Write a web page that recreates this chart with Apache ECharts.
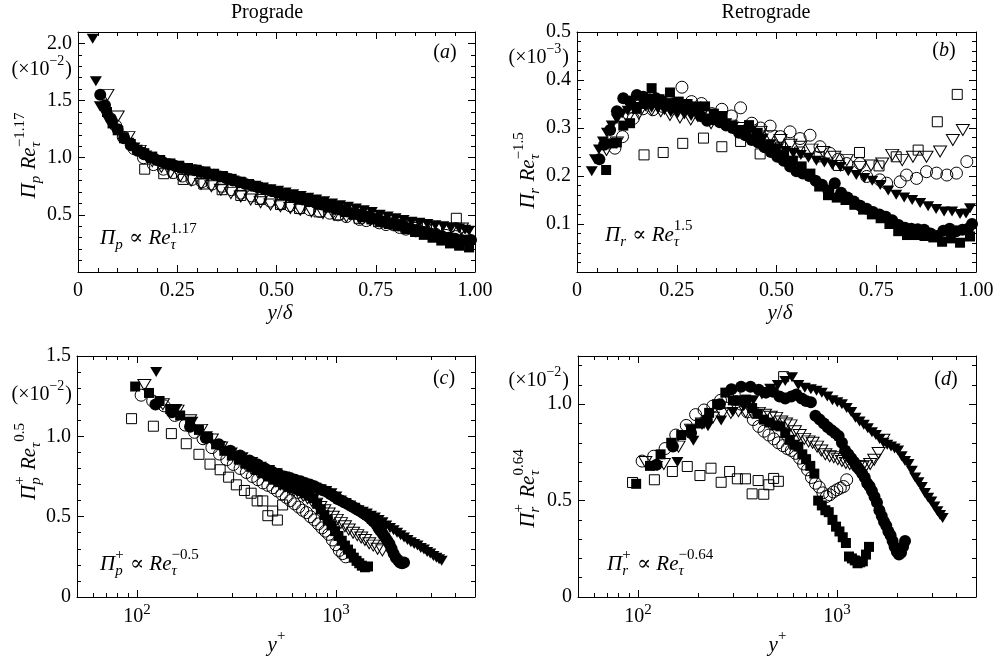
<!DOCTYPE html>
<html><head><meta charset="utf-8">
<script src="https://cdn.jsdelivr.net/npm/echarts@6/dist/echarts.min.js"></script>
<style>html,body{margin:0;padding:0;background:#fff}#c{width:997px;height:658px}</style>
</head><body><div id="c"></div>
<script>
// ---------- outer scaling: x = y/delta ----------
const ydTF = [0.037,0.045,0.055,0.065,0.075,0.087,0.1,0.113,0.127,0.142,0.157,0.172,0.187,0.203,0.219,0.235,0.252,0.269,0.286,0.303,0.32,0.338,0.356,0.374,0.392,0.41,0.428,0.447,0.466,0.485,0.504,0.523,0.542,0.561,0.58,0.6,0.62,0.64,0.66,0.68,0.70,0.72,0.74,0.76,0.78,0.80,0.82,0.84,0.86,0.88,0.90,0.92,0.94,0.96,0.975,0.985];
const aTF = [2.04,1.67,1.45,1.40,1.33,1.28,1.23,1.18,1.13,1.09,1.05,1.02,0.99,0.97,0.95,0.935,0.92,0.905,0.895,0.88,0.865,0.85,0.835,0.82,0.80,0.785,0.77,0.755,0.74,0.725,0.71,0.695,0.68,0.665,0.65,0.635,0.62,0.60,0.585,0.57,0.555,0.54,0.525,0.50,0.485,0.47,0.455,0.44,0.43,0.42,0.41,0.40,0.39,0.38,0.37,0.36];
const bTF = [0.21,0.235,0.255,0.272,0.29,0.305,0.318,0.33,0.336,0.34,0.344,0.345,0.342,0.34,0.337,0.333,0.33,0.328,0.325,0.322,0.32,0.318,0.314,0.31,0.303,0.296,0.29,0.286,0.278,0.266,0.258,0.252,0.248,0.244,0.238,0.232,0.228,0.223,0.219,0.21,0.202,0.196,0.19,0.181,0.17,0.161,0.155,0.15,0.144,0.137,0.131,0.126,0.126,0.121,0.122,0.133];

const ydCF = [0.056,0.068,0.083,0.1,0.116,0.133,0.15,0.166,0.182,0.198,0.214,0.23,0.246,0.262,0.278,0.294,0.31,0.326,0.342,0.358,0.374,0.39,0.406,0.422,0.438,0.454,0.47,0.486,0.502,0.518,0.534,0.55,0.566,0.582,0.598,0.614,0.63,0.646,0.662,0.678,0.694,0.71,0.726,0.742,0.758,0.774,0.79,0.806,0.822,0.838,0.854,0.87,0.886,0.902,0.918,0.934,0.95,0.966,0.98,0.99];
const aCF = [1.55,1.46,1.34,1.25,1.17,1.11,1.06,1.03,1.0,0.98,0.96,0.94,0.925,0.91,0.90,0.89,0.875,0.86,0.85,0.835,0.82,0.80,0.785,0.77,0.755,0.74,0.725,0.71,0.695,0.68,0.665,0.65,0.635,0.62,0.605,0.59,0.575,0.56,0.545,0.53,0.515,0.50,0.485,0.47,0.455,0.44,0.425,0.41,0.395,0.38,0.365,0.35,0.34,0.325,0.31,0.30,0.29,0.28,0.275,0.28];
const bCF = [0.235,0.265,0.296,0.335,0.362,0.355,0.369,0.365,0.36,0.362,0.355,0.35,0.352,0.345,0.345,0.34,0.325,0.315,0.318,0.312,0.305,0.30,0.29,0.285,0.275,0.27,0.26,0.25,0.24,0.232,0.22,0.21,0.205,0.2,0.19,0.182,0.17,0.185,0.165,0.155,0.147,0.138,0.132,0.125,0.12,0.115,0.108,0.098,0.092,0.09,0.089,0.088,0.08,0.075,0.086,0.09,0.085,0.088,0.09,0.10];

const ydSF = [0.073,0.087,0.1,0.116,0.133,0.15,0.167,0.187,0.207,0.233,0.255,0.277,0.299,0.321,0.343,0.365,0.387,0.409,0.431,0.453,0.475,0.497,0.519,0.541,0.563,0.585,0.607,0.629,0.651,0.673,0.695,0.717,0.739,0.761,0.783,0.805,0.827,0.849,0.871,0.893,0.915,0.937,0.96,0.985];
const aSF = [1.40,1.30,1.24,1.17,1.12,1.07,1.04,1.01,0.98,0.95,0.93,0.91,0.895,0.88,0.86,0.84,0.815,0.79,0.77,0.745,0.72,0.70,0.68,0.66,0.64,0.615,0.59,0.565,0.545,0.525,0.50,0.48,0.46,0.44,0.42,0.40,0.375,0.35,0.325,0.30,0.275,0.25,0.23,0.215];
const bSF = [0.2125,0.268,0.27,0.305,0.31,0.34,0.35,0.383,0.36,0.374,0.355,0.35,0.345,0.345,0.33,0.325,0.305,0.295,0.306,0.29,0.265,0.255,0.245,0.232,0.22,0.205,0.178,0.16,0.155,0.15,0.14,0.13,0.12,0.112,0.10,0.085,0.077,0.077,0.075,0.072,0.063,0.07,0.061,0.074];

const ydTO = [0.074,0.1,0.127,0.155,0.187,0.21,0.233,0.258,0.285,0.31,0.336,0.36,0.385,0.41,0.435,0.46,0.485,0.51,0.535,0.56,0.588,0.617,0.645,0.676,0.709,0.737,0.765,0.79,0.815,0.842,0.876,0.91,0.942,0.967];
const aTO = [1.55,1.36,1.18,1.06,0.97,0.92,0.87,0.84,0.80,0.77,0.75,0.72,0.69,0.66,0.635,0.61,0.59,0.575,0.56,0.545,0.53,0.515,0.50,0.485,0.47,0.455,0.44,0.425,0.41,0.40,0.39,0.38,0.38,0.38];
const bTO = [0.254,0.27,0.32,0.33,0.3375,0.335,0.327,0.322,0.318,0.325,0.31,0.32,0.305,0.30,0.295,0.292,0.283,0.275,0.265,0.261,0.255,0.25,0.24,0.233,0.219,0.222,0.226,0.244,0.233,0.24,0.24,0.251,0.275,0.296];

const ydCO = [0.095,0.114,0.141,0.165,0.19,0.215,0.24,0.263,0.287,0.312,0.338,0.363,0.387,0.41,0.438,0.46,0.484,0.51,0.534,0.559,0.584,0.609,0.634,0.655,0.676,0.709,0.726,0.759,0.776,0.81,0.826,0.851,0.876,0.901,0.927,0.951,0.977];
const aCO = [1.28,1.18,1.08,1.0,0.94,0.90,0.87,0.84,0.81,0.79,0.77,0.75,0.72,0.69,0.665,0.645,0.62,0.60,0.58,0.56,0.545,0.53,0.515,0.50,0.485,0.46,0.45,0.43,0.415,0.39,0.375,0.36,0.345,0.33,0.32,0.31,0.30];
const bCO = [0.258,0.282,0.32,0.34,0.338,0.345,0.35,0.385,0.355,0.351,0.33,0.339,0.325,0.342,0.31,0.30,0.304,0.282,0.292,0.278,0.285,0.261,0.247,0.235,0.226,0.226,0.199,0.192,0.185,0.188,0.202,0.195,0.209,0.206,0.202,0.206,0.23];

const ydSO = [0.168,0.216,0.265,0.317,0.363,0.41,0.459,0.51,0.558,0.607,0.655,0.708,0.757,0.80,0.855,0.903,0.953];
const aSO = [0.90,0.86,0.81,0.77,0.72,0.67,0.635,0.59,0.555,0.526,0.50,0.47,0.44,0.41,0.39,0.39,0.47];
const bSO = [0.244,0.249,0.268,0.279,0.261,0.272,0.246,0.26,0.25,0.24,0.222,0.249,0.221,0.24,0.254,0.313,0.370];

// ---------- inner scaling: x = y+ ----------
const ypTF = [125,158,190,225,262,300,340,380,420,462,505,550,595,640,690,740,790,840,895,950,1005,1060,1120,1180,1240,1300,1365,1430,1500,1570,1640,1715,1790,1870,1950,2030,2115,2200,2290,2380,2475,2570,2670,2770,2875,2980,3090,3200,3300,3400];
const cTF = [1.40,1.17,1.09,1.0,0.94,0.90,0.87,0.84,0.81,0.79,0.77,0.75,0.735,0.72,0.70,0.69,0.68,0.67,0.66,0.645,0.625,0.60,0.585,0.57,0.555,0.54,0.53,0.52,0.505,0.495,0.48,0.465,0.445,0.43,0.415,0.40,0.385,0.37,0.355,0.34,0.33,0.32,0.305,0.295,0.28,0.27,0.255,0.245,0.235,0.225];
const dTF = [0.68,0.70,0.81,0.885,0.915,0.96,0.99,1.02,1.05,1.08,1.10,1.12,1.14,1.10,1.085,1.077,1.07,1.059,1.04,1.02,1.01,1.0,0.98,0.96,0.93,0.91,0.894,0.875,0.855,0.84,0.82,0.80,0.79,0.78,0.77,0.76,0.73,0.705,0.69,0.655,0.62,0.595,0.57,0.54,0.515,0.495,0.47,0.445,0.425,0.41];

const ypCF = [124,150,185,222,258,295,330,368,405,440,478,515,550,590,625,665,700,740,780,820,860,900,940,980,1020,1060,1100,1140,1180,1220,1260,1300,1340,1380,1420,1460,1500,1545,1590,1635,1680,1725,1770,1815,1860,1905,1950,2000,2050,2100,2150,2200];
const cCF = [1.198,1.15,1.06,0.99,0.95,0.91,0.88,0.85,0.825,0.80,0.78,0.765,0.75,0.74,0.73,0.72,0.71,0.70,0.69,0.675,0.665,0.655,0.64,0.625,0.61,0.60,0.59,0.58,0.57,0.56,0.55,0.54,0.53,0.52,0.51,0.50,0.485,0.47,0.455,0.43,0.41,0.39,0.37,0.35,0.33,0.30,0.27,0.245,0.23,0.215,0.21,0.215];
const dCF = [0.686,0.78,0.85,0.92,1.0,1.077,1.09,1.09,1.075,1.06,1.065,1.04,1.03,1.04,1.05,1.03,1.016,1.01,0.94,0.92,0.90,0.88,0.865,0.85,0.835,0.80,0.76,0.74,0.72,0.70,0.675,0.66,0.64,0.62,0.59,0.575,0.55,0.52,0.49,0.45,0.42,0.39,0.37,0.34,0.32,0.29,0.26,0.235,0.22,0.23,0.26,0.29];

const ypSF = [98,115,130,147,165,185,205,228,250,275,300,325,350,375,400,430,460,490,520,550,580,610,640,670,700,735,770,805,840,875,910,950,990,1030,1070,1110,1150,1190,1230,1270,1310,1350,1400,1450];
const cSF = [1.31,1.27,1.22,1.17,1.13,1.09,1.04,0.99,0.95,0.91,0.88,0.855,0.83,0.81,0.79,0.77,0.75,0.73,0.715,0.70,0.69,0.68,0.67,0.66,0.645,0.63,0.615,0.58,0.545,0.51,0.48,0.445,0.41,0.38,0.35,0.32,0.295,0.27,0.245,0.225,0.21,0.195,0.185,0.19];
const dSF = [0.587,0.68,0.74,0.80,0.84,0.87,0.90,0.955,1.0,1.06,1.02,1.02,1.024,0.98,0.95,0.92,0.905,0.89,0.885,0.85,0.815,0.79,0.78,0.74,0.715,0.68,0.64,0.50,0.475,0.45,0.44,0.40,0.365,0.34,0.31,0.28,0.21,0.20,0.19,0.175,0.18,0.185,0.22,0.26];

const ypTO = [109,135,160,185,210,238,265,293,320,348,375,405,435,465,495,525,555,585,615,650,685,720,755,795,835,875,920,965,1010,1060,1110,1160,1220,1280,1340,1400,1470,1540,1620,1711];
const cTO = [1.32,1.20,1.16,1.10,1.04,0.98,0.93,0.89,0.86,0.83,0.80,0.78,0.76,0.74,0.72,0.70,0.69,0.675,0.66,0.645,0.63,0.615,0.60,0.58,0.56,0.54,0.52,0.50,0.48,0.46,0.44,0.42,0.40,0.385,0.37,0.355,0.335,0.32,0.30,0.29];
const dTO = [0.70,0.69,0.78,0.868,0.90,0.93,0.95,0.955,0.964,0.96,0.955,0.955,0.945,0.935,0.929,0.91,0.90,0.89,0.86,0.84,0.82,0.807,0.80,0.78,0.76,0.74,0.73,0.725,0.715,0.705,0.695,0.69,0.68,0.677,0.675,0.68,0.69,0.712,0.747,0.816];

const ypCO = [105,120,137,155,175,195,215,238,260,283,305,330,355,380,405,430,455,482,508,535,563,590,620,650,680,712,745,780,815,850,885,920,960,1000,1040,1080,1120];
const cCO = [1.256,1.22,1.19,1.13,1.07,1.025,0.985,0.93,0.89,0.855,0.825,0.80,0.775,0.75,0.73,0.71,0.695,0.68,0.66,0.64,0.62,0.60,0.58,0.56,0.54,0.525,0.50,0.48,0.455,0.43,0.41,0.39,0.355,0.325,0.29,0.27,0.25];
const dCO = [0.705,0.73,0.77,0.84,0.89,0.946,0.97,0.99,1.02,1.04,1.05,1.0,0.96,0.92,0.885,0.86,0.84,0.82,0.80,0.785,0.77,0.76,0.745,0.72,0.69,0.66,0.62,0.59,0.57,0.54,0.521,0.53,0.545,0.556,0.565,0.573,0.608];

const ypSO = [94,121,149,177,205,233,262,289,316,347,375,402,429,455,481,508,540];
const cSO = [1.11,1.063,1.017,0.954,0.888,0.827,0.792,0.746,0.698,0.663,0.646,0.598,0.598,0.506,0.535,0.479,0.573];
const dSO = [0.594,0.608,0.651,0.677,0.63,0.668,0.595,0.651,0.613,0.613,0.535,0.604,0.533,0.582,0.615,0.60,1.143];

// ---------- tick values ----------
const xOuterLabels = [0,0.25,0.5,0.75,1];
const aYLabels = [0.5,1.0,1.5,2.0];
const bYLabels = [0.1,0.2,0.3,0.4,0.5];
const cYLabels = [0,0.5,1.0,1.5];
const dYLabels = [0,0.5,1.0];
const logLabels = [100,1000];
const logMinor = [60,70,80,90,200,300,400,500,600,700,800,900,2000,3000,4000];

function steps(a,b,d){const r=[];const n=Math.round((b-a)/d);for(let i=0;i<=n;i++)r.push(+(a+i*d).toFixed(4));return r;}

const FF = '"Liberation Serif","Times New Roman","DejaVu Serif",serif';
const SZ = 20;     // tick labels / titles
const FS = 21;     // formula main size

const chart = echarts.init(document.getElementById('c'), null, {renderer:'canvas'});

const grids = [
  {left:78, top:32, width:397, height:240, outerBoundsMode:'none'},
  {left:577, top:32, width:399, height:240, outerBoundsMode:'none'},
  {left:77, top:356, width:398, height:241, outerBoundsMode:'none'},
  {left:578, top:356, width:398, height:241, outerBoundsMode:'none'}
];

const xAxes = [], yAxes = [];
function addAxes(list, dim, g, spec){
  const base = {type:spec.type, gridIndex:g, min:spec.min, max:spec.max,
    splitLine:{show:false}, splitArea:{show:false}, minorTick:{show:false}, minorSplitLine:{show:false}};
  if (spec.type === 'log') base.logBase = 10;
  const positions = dim === 'x' ? ['bottom','top'] : ['left','right'];
  positions.forEach((pos, pi) => {
    list.push(Object.assign({}, base, {position:pos,
      axisLine:{show:true, onZero:false, lineStyle:{color:'#000', width:1}},
      axisTick:{show:true, inside:true, length:4, customValues:spec.minor, lineStyle:{color:'#000', width:1}},
      axisLabel: pi === 0 ? {show:true, customValues:spec.labels, formatter:spec.fmt, margin:spec.margin,
        color:'#000', fontFamily:FF, fontSize:SZ, rich:spec.rich} : {show:false}
    }));
    list.push(Object.assign({}, base, {position:pos,
      axisLine:{show:false, onZero:false},
      axisTick:{show:true, inside:true, length:7, customValues:spec.major, lineStyle:{color:'#000', width:1}},
      axisLabel:{show:false}
    }));
  });
}
const fmt1 = v => (v === 0 ? '0' : v.toFixed(1));
const fmt2 = v => (v === 0 ? '0' : v.toFixed(2));
const logFmt = v => '{b|10}{s|' + Math.round(Math.log10(v)) + '}';
const logRich = {b:{fontFamily:FF, fontSize:SZ, lineHeight:24, verticalAlign:'bottom'},
                 s:{fontFamily:FF, fontSize:15, lineHeight:15, verticalAlign:'top'}};

const xOuter = {type:'value', min:0, max:1, minor:steps(0,1,0.05), major:xOuterLabels, labels:xOuterLabels, fmt:fmt2, margin:9};
const xInner = {type:'log', min:50, max:5000, minor:logMinor, major:logLabels, labels:logLabels, fmt:logFmt, rich:logRich, margin:6};
addAxes(xAxes,'x',0,xOuter); addAxes(xAxes,'x',1,xOuter);
addAxes(xAxes,'x',2,xInner); addAxes(xAxes,'x',3,xInner);
addAxes(yAxes,'y',0,{type:'value', min:0, max:2.1, minor:steps(0,2.1,0.1), major:[0,0.5,1,1.5,2], labels:aYLabels, fmt:fmt1, margin:6});
addAxes(yAxes,'y',1,{type:'value', min:0, max:0.5, minor:steps(0,0.5,0.02), major:steps(0,0.5,0.1), labels:bYLabels, fmt:fmt1, margin:6});
addAxes(yAxes,'y',2,{type:'value', min:0, max:1.5, minor:steps(0,1.5,0.1), major:[0,0.5,1,1.5], labels:cYLabels, fmt:fmt1, margin:6});
addAxes(yAxes,'y',3,{type:'value', min:0, max:1.25, minor:steps(0,1.2,0.1), major:[0,0.5,1], labels:dYLabels, fmt:fmt1, margin:6});

const SYM = {
  TF:{symbol:'triangle', size:[12,10], rot:180, fill:true},
  CF:{symbol:'circle', size:12, fill:true},
  SF:{symbol:'rect', size:10, fill:true},
  TO:{symbol:'triangle', size:[13,11], rot:180, fill:false},
  CO:{symbol:'circle', size:12, fill:false},
  SO:{symbol:'rect', size:10, fill:false}
};
function ser(g, xs, ys, key){
  const st = SYM[key];
  return {type:'scatter', xAxisIndex:4*g, yAxisIndex:4*g, silent:true, animation:false, clip:false,
    data: xs.map((x,i) => [x, ys[i]]),
    symbol:st.symbol, symbolSize:st.size, symbolRotate:st.rot || 0, z: st.fill ? 2 : 3,
    itemStyle: st.fill ? {color:'#000', borderWidth:0, opacity:1}
                       : {color:'rgba(255,255,255,0)', borderColor:'#000', borderWidth:1, opacity:1}};
}
const series = [
  ser(0,ydSF,aSF,'SF'), ser(0,ydCF,aCF,'CF'), ser(0,ydTF,aTF,'TF'), ser(0,ydCO,aCO,'CO'), ser(0,ydTO,aTO,'TO'), ser(0,ydSO,aSO,'SO'),
  ser(1,ydSF,bSF,'SF'), ser(1,ydCF,bCF,'CF'), ser(1,ydTF,bTF,'TF'), ser(1,ydCO,bCO,'CO'), ser(1,ydTO,bTO,'TO'), ser(1,ydSO,bSO,'SO'),
  ser(2,ypSF,cSF,'SF'), ser(2,ypCF,cCF,'CF'), ser(2,ypTF,cTF,'TF'), ser(2,ypCO,cCO,'CO'), ser(2,ypTO,cTO,'TO'), ser(2,ypSO,cSO,'SO'),
  ser(3,ypSF,dSF,'SF'), ser(3,ypCF,dCF,'CF'), ser(3,ypTF,dTF,'TF'), ser(3,ypCO,dCO,'CO'), ser(3,ypTO,dTO,'TO'), ser(3,ypSO,dSO,'SO')
];

// ---------- text with sub/superscripts ----------
const cv = document.createElement('canvas').getContext('2d');
function fnt(sz, it){ return (it ? 'italic ' : '') + sz + 'px ' + FF; }
function tw(t, sz, it){ cv.font = fnt(sz, it); return cv.measureText(t).width; }
function txt(t, x, y, sz, it, align){
  return {type:'text', x:x, y:y, silent:true,
    style:{text:t, font:fnt(sz,it), fill:'#000', textAlign:align || 'left', textVerticalAlign:'middle', verticalAlign:'middle'}};
}
function formula(tokens, x, y, opt){
  opt = opt || {};
  const S = opt.size || FS, s = Math.round(S * 0.72);
  let cx = 0; const kids = [];
  tokens.forEach(tk => {
    if (Array.isArray(tk)) { kids.push(txt(tk[0], cx, 0, S, tk[1])); cx += tw(tk[0], S, tk[1]); }
    else {
      let w = 0;
      if (tk.b) { kids.push(txt(tk.b[0], cx + (tk.bx || 0), S * 0.33, s, tk.b[1])); w = Math.max(w, tw(tk.b[0], s, tk.b[1]) + (tk.bx || 0)); }
      if (tk.t) { kids.push(txt(tk.t[0], cx + (tk.tx || 0), -S * 0.42, s, tk.t[1])); w = Math.max(w, tw(tk.t[0], s, tk.t[1]) + (tk.tx || 0)); }
      cx += w + 1;
    }
  });
  const off = opt.align === 'center' ? -cx / 2 : opt.align === 'right' ? -cx : 0;
  kids.forEach(k => { k.x += off; });
  return {type:'group', x:x, y:y, rotation:opt.rot || 0, silent:true, children:kids};
}
const R = Math.PI / 2;
const graphics = [
  txt('Prograde', 267, 13, SZ, false, 'center'),
  txt('Retrograde', 766, 13, SZ, false, 'center'),
  // y-axis titles
  formula([['Π',1],{b:['p',1]},[' Re',1],{b:['τ',1],t:['−1.17',0]}], 29, 155, {align:'center', rot:R}),
  formula([['Π',1],{b:['r',1]},[' Re',1],{b:['τ',1],t:['−1.5',0]}], 528, 170, {align:'center', rot:R}),
  formula([['Π',1],{b:['p',1],t:['+',0]},[' Re',1],{b:['τ',1],t:['0.5',0],tx:6}], 29, 461, {align:'center', rot:R}),
  formula([['Π',1],{b:['r',1],t:['+',0]},[' Re',1],{b:['τ',1],t:['0.64',0]}], 528, 488, {align:'center', rot:R}),
  // x-axis titles
  formula([['y',1],['/',0],['δ',1]], 280, 313, {align:'center'}),
  formula([['y',1],['/',0],['δ',1]], 780, 313, {align:'center'}),
  formula([['y',1],{t:['+',0]}], 277, 645, {align:'center'}),
  formula([['y',1],{t:['+',0]}], 778, 645, {align:'center'}),
  // panel letters
  formula([['(',0],['a',1],[')',0]], 445, 53, {align:'center', size:SZ}),
  formula([['(',0],['b',1],[')',0]], 944, 51, {align:'center', size:SZ}),
  formula([['(',0],['c',1],[')',0]], 444, 379, {align:'center', size:SZ}),
  formula([['(',0],['d',1],[')',0]], 946, 380, {align:'center', size:SZ}),
  // scale factors
  formula([['(×10',0],{t:['−2',0]},[')',0]], 72, 70, {align:'right', size:SZ}),
  formula([['(×10',0],{t:['−3',0]},[')',0]], 569, 58, {align:'right', size:SZ}),
  formula([['(×10',0],{t:['−2',0]},[')',0]], 72, 395, {align:'right', size:SZ}),
  formula([['(×10',0],{t:['−2',0]},[')',0]], 569, 381, {align:'right', size:SZ}),
  // scaling laws
  formula([['Π',1],{b:['p',1]},[' ∝ ',0],['Re',1],{b:['τ',1],t:['1.17',0]}], 100, 238),
  formula([['Π',1],{b:['r',1]},[' ∝ ',0],['Re',1],{b:['τ',1],t:['1.5',0]}], 605, 235),
  formula([['Π',1],{b:['p',1],t:['+',0]},[' ∝ ',0],['Re',1],{b:['τ',1],t:['−0.5',0]}], 100, 564),
  formula([['Π',1],{b:['r',1],t:['+',0]},[' ∝ ',0],['Re',1],{b:['τ',1],t:['−0.64',0]}], 607, 564)
];

chart.setOption({
  backgroundColor:'#fff',
  animation:false,
  grid:grids,
  xAxis:xAxes,
  yAxis:yAxes,
  series:series,
  graphic:graphics
});
</script></body></html>
